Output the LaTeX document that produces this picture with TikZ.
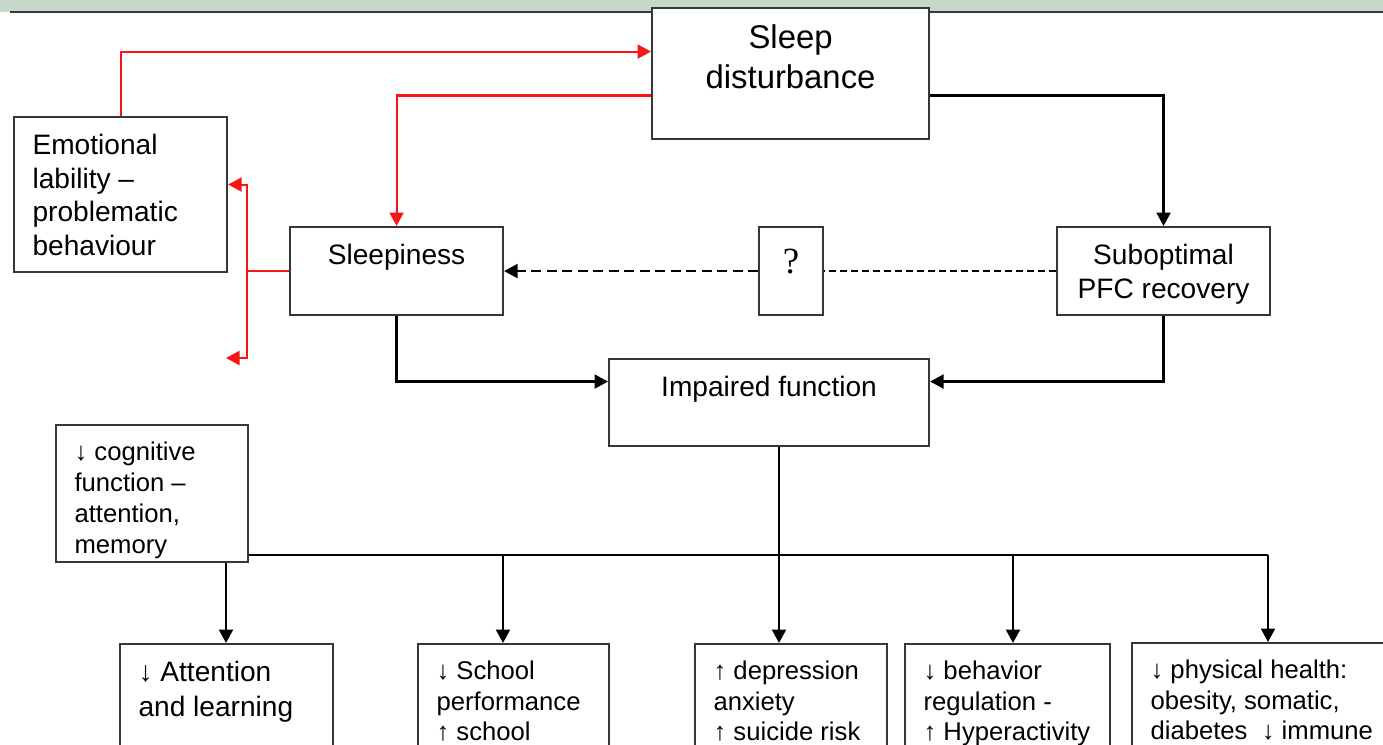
\documentclass[tikz,border=0pt]{standalone}
\usepackage{fontspec}
\setmainfont{Liberation Sans}
\newfontfamily\qfont{Liberation Serif}
\usepackage{tikz}
\usetikzlibrary{arrows.meta,positioning}
\definecolor{bandgreen}{RGB}{197,217,203}
\definecolor{boxgray}{RGB}{55,55,55}
\definecolor{linkred}{RGB}{250,20,20}
\newdimen\pxu \pxu=0.02cm
\newcommand{\cell}[3]{\parbox[t][\dimexpr#2\pxu-0.68cm\relax][t]{\dimexpr#1\pxu-0.74cm\relax}{#3}}
\tikzstyle{block} = [rectangle, draw=boxgray, line width=1.2pt, fill=white,
                     inner xsep=0.37cm, inner ysep=0.34cm, anchor=north west,
                     font=\fontsize{16}{19.2}\selectfont]
\tikzstyle{smallblock} = [block, font=\fontsize{14.6}{17.4}\selectfont]
\tikzstyle{arrow} = [-{Triangle[length=0.27cm,width=0.28cm]}, line width=1.3pt]
\tikzstyle{redarrow} = [arrow, draw=linkred, line width=1.2pt]

\begin{document}
\begin{tikzpicture}[x=0.02cm, y=-0.02cm]
    \useasboundingbox (0,0) rectangle (1383,744);
    \clip (0,0) rectangle (1383,744);
    \fill[white] (0,0) rectangle (1383,744);
    \fill[bandgreen] (0,0) rectangle (1383,12);
    \draw[boxgray, line width=1.2pt] (10,12) -- (1383,12);

    \node [block, font=\fontsize{18.7}{22.7}\selectfont] (sd) at (651,7) {\cell{277}{131}{\centering Sleep\\disturbance}};
    \node [block] (emo) at (13,116) {\cell{213}{155}{Emotional\\lability –\\problematic\\behaviour}};
    \node [block] (sleepy) at (289,226) {\cell{213}{88}{\centering Sleepiness}};
    \node [block, font=\qfont\fontsize{21}{24}\selectfont] (q) at (758,226) {\cell{64}{88}{\centering\vspace*{0.1cm}?}};
    \node [block] (sub) at (1056,226) {\cell{213}{88}{\centering Suboptimal\\PFC recovery}};
    \node [block] (imp) at (608,358) {\cell{320}{87}{\centering Impaired function}};
    \node [smallblock, font=\fontsize{14.6}{17.6}\selectfont] (cog) at (55,424) {\cell{192}{137}{↓~cognitive\\function –\\attention,\\memory}};

    \node [block, font=\fontsize{16}{19.8}\selectfont] (att) at (119,643) {\cell{213}{150}{↓~Attention\\and~learning}};
    \node [smallblock] (sch) at (417,643) {\cell{191}{150}{↓~School\\performance\\↑~school}};
    \node [smallblock] (dep) at (694,643) {\cell{192}{150}{↑~depression\\anxiety\\↑~suicide~risk}};
    \node [smallblock] (beh) at (904,643) {\cell{205}{150}{↓~behavior\\regulation~-\\↑~Hyperactivity}};
    \node [smallblock] (phy) at (1131,642) {\cell{280}{150}{↓~physical~health:\\obesity,~somatic,\\diabetes~~↓~immune}};

    \coordinate (b1) at (226,555);
    \coordinate (b2) at (503,555);
    \coordinate (b3) at (779,555);
    \coordinate (b4) at (1013,555);
    \coordinate (b5) at (1268,555);
    \coordinate (loose) at (226,358);

    \draw [redarrow] (emo.north) |- ([yshift=0.44cm]sd.west);
    \draw [redarrow] ([yshift=-0.44cm]sd.west) -| (sleepy.north);
    \draw [linkred, line width=1.2pt] (sleepy.west) -- ++(-42,0) coordinate (split);
    \draw [redarrow] (split) |- ([yshift=0.2cm]emo.east);
    \draw [redarrow] (split) |- (loose);

    \draw [arrow] ([yshift=-0.44cm]sd.east) -| (sub.north);
    \draw [line width=1.3pt, dash pattern=on 0.14cm off 0.08cm] (sub.west) -- (q.east);
    \draw [arrow, dash pattern=on 0.2cm off 0.11cm] (q.west) -- (sleepy.east);
    \draw [arrow] (sleepy.south) |- ([yshift=0.42cm]imp.west);
    \draw [arrow] (sub.south) |- ([yshift=0.42cm]imp.east);

    \draw [arrow] (b3 |- imp.south) -- (b3 |- dep.north);
    \draw [line width=1.3pt] (cog.east |- b1) -- (b5);
    \draw [arrow] (b1 |- cog.south) -- (b1 |- att.north);
    \draw [arrow] (b2) -- (b2 |- sch.north);
    \draw [arrow] (b4) -- (b4 |- beh.north);
    \draw [arrow] (b5) -- (b5 |- phy.north);
\end{tikzpicture}
\end{document}
